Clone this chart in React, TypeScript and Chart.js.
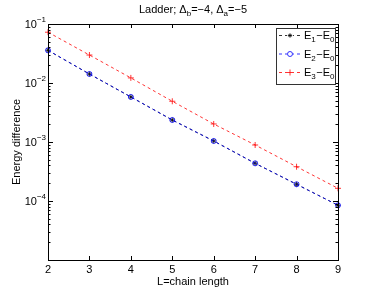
import React, { useEffect, useRef } from "react";
import { Chart, registerables } from "chart.js";
Chart.register(...registerables);

const chainLengths = [2, 3, 4, 5, 6, 7, 8, 9];
const e1MinusE0 = [0.0358, 0.0142, 0.0058, 0.00236, 0.00104, 0.000435, 0.000192, 0.0000845];
const e2MinusE0 = [0.0358, 0.0142, 0.0058, 0.00236, 0.00104, 0.000435, 0.000192, 0.0000845];
const e3MinusE0 = [0.0726, 0.0298, 0.0122, 0.0049, 0.00202, 0.00089, 0.000381, 0.000164];
const xTickValues = [2, 3, 4, 5, 6, 7, 8, 9];
const yLabelExponents = [-1, -2, -3, -4];
const seriesNames = [
  { main: "E", sub1: "1", sub2: "0" },
  { main: "E", sub1: "2", sub2: "0" },
  { main: "E", sub1: "3", sub2: "0" },
];
const seriesColors = ["#000000", "#0000ff", "#ff0000"];
const seriesMarkers = ["star", "circle", "cross"];

const FONT = "'Liberation Sans', Arial, Helvetica, sans-serif";

const decorPlugin = {
  id: "matlabDecor",
  afterDraw(chart: any) {
    const ctx = chart.ctx as CanvasRenderingContext2D;
    const area = chart.chartArea;
    const xs = chart.scales.x;
    const ys = chart.scales.y;
    ctx.save();
    ctx.strokeStyle = "#000";
    ctx.lineWidth = 1;
    ctx.setLineDash([]);
    ctx.strokeRect(area.left + 0.5, area.top + 0.5, area.right - area.left, area.bottom - area.top);
    ctx.beginPath();
    xTickValues.forEach((v) => {
      const px = Math.round(xs.getPixelForValue(v)) + 0.5;
      ctx.moveTo(px, area.bottom);
      ctx.lineTo(px, area.bottom - 4);
      ctx.moveTo(px, area.top);
      ctx.lineTo(px, area.top + 4);
    });
    for (let e = -5; e <= -1; e++) {
      const py = Math.round(ys.getPixelForValue(Math.pow(10, e))) + 0.5;
      ctx.moveTo(area.left, py);
      ctx.lineTo(area.left + 5, py);
      ctx.moveTo(area.right, py);
      ctx.lineTo(area.right - 5, py);
      if (e < -1) {
        for (let m = 2; m <= 9; m++) {
          const pm = Math.round(ys.getPixelForValue(m * Math.pow(10, e))) + 0.5;
          ctx.moveTo(area.left, pm);
          ctx.lineTo(area.left + 2.5, pm);
          ctx.moveTo(area.right, pm);
          ctx.lineTo(area.right - 2.5, pm);
        }
      }
    }
    ctx.stroke();

    ctx.fillStyle = "#000";
    ctx.font = `11px ${FONT}`;
    ctx.textAlign = "center";
    ctx.textBaseline = "top";
    xTickValues.forEach((v) => {
      ctx.fillText(String(v), xs.getPixelForValue(v), area.bottom + 4);
    });
    yLabelExponents.forEach((e) => {
      const py = ys.getPixelForValue(Math.pow(10, e));
      ctx.font = `8px ${FONT}`;
      const expText = "\u2212" + String(-e);
      const ew = ctx.measureText(expText).width;
      ctx.textAlign = "left";
      ctx.textBaseline = "alphabetic";
      const right = area.left - 2;
      ctx.fillText(expText, right - ew, py - 2);
      ctx.font = `11px ${FONT}`;
      ctx.textAlign = "right";
      ctx.fillText("10", right - ew, py + 4);
    });
    ctx.font = `11px ${FONT}`;
    ctx.textAlign = "center";
    ctx.textBaseline = "alphabetic";
    ctx.fillText("L=chain length", (area.left + area.right) / 2, area.bottom + 25);
    ctx.save();
    ctx.translate(20, (area.top + area.bottom) / 2);
    ctx.rotate(-Math.PI / 2);
    ctx.fillText("Energy difference", 0, 0);
    ctx.restore();

    const parts: Array<[string, boolean]> = [
      ["Ladder; \u0394", false],
      ["b", true],
      ["=\u22124, \u0394", false],
      ["a", true],
      ["=\u22125", false],
    ];
    let total = 0;
    parts.forEach(([t, sub]) => {
      ctx.font = sub ? `8px ${FONT}` : `11px ${FONT}`;
      total += ctx.measureText(t).width;
    });
    let tx = (area.left + area.right) / 2 - total / 2;
    ctx.textAlign = "left";
    parts.forEach(([t, sub]) => {
      ctx.font = sub ? `8px ${FONT}` : `11px ${FONT}`;
      ctx.fillText(t, tx, sub ? 16 : 13);
      tx += ctx.measureText(t).width;
    });

    const lx = 276, ly = 28, lw = 59, lh = 56;
    ctx.fillStyle = "#fff";
    ctx.fillRect(lx, ly, lw, lh);
    ctx.strokeStyle = "#333";
    ctx.lineWidth = 1;
    ctx.strokeRect(lx + 0.5, ly + 0.5, lw, lh);
    const rows = [35, 53.5, 72];
    seriesNames.forEach((s, i) => {
      const ry = rows[i];
      const col = seriesColors[i];
      ctx.strokeStyle = col;
      ctx.lineWidth = 0.8;
      ctx.setLineDash([3, 3]);
      ctx.beginPath();
      ctx.moveTo(279, ry + 0.5);
      ctx.lineTo(301, ry + 0.5);
      ctx.stroke();
      ctx.setLineDash([]);
      const mx = 290, my = ry + 0.5;
      ctx.fillStyle = "#fff";
      ctx.fillRect(mx - 3, my - 3, 6, 6);
      ctx.beginPath();
      if (i === 0) {
        for (let k = 0; k < 4; k++) {
          const a = (k * Math.PI) / 4;
          ctx.moveTo(mx - 2.2 * Math.cos(a), my - 2.2 * Math.sin(a));
          ctx.lineTo(mx + 2.2 * Math.cos(a), my + 2.2 * Math.sin(a));
        }
      } else if (i === 1) {
        ctx.arc(mx, my, 2.5, 0, Math.PI * 2);
      } else {
        ctx.moveTo(mx - 3, my);
        ctx.lineTo(mx + 3, my);
        ctx.moveTo(mx, my - 3);
        ctx.lineTo(mx, my + 3);
      }
      ctx.stroke();
      ctx.fillStyle = "#000";
      let x = 304;
      const base = ry + 4;
      ctx.font = `11px ${FONT}`;
      ctx.fillText(s.main, x, base);
      x += ctx.measureText(s.main).width;
      ctx.font = `8px ${FONT}`;
      ctx.fillText(s.sub1, x, base + 3);
      x += ctx.measureText(s.sub1).width + 0.5;
      ctx.font = `11px ${FONT}`;
      ctx.fillText("\u2212", x, base);
      x += ctx.measureText("\u2212").width;
      ctx.fillText(s.main, x, base);
      x += ctx.measureText(s.main).width;
      ctx.font = `8px ${FONT}`;
      ctx.fillText(s.sub2, x, base + 3);
    });
    ctx.restore();
  },
};

export default function App() {
  const ref = useRef<HTMLCanvasElement | null>(null);
  useEffect(() => {
    document.body.style.margin = "0";
    const canvas = ref.current!;
    const mk = (vals: number[], i: number, order: number) => ({
      label: `E${i + 1}-E0`,
      data: chainLengths.map((x, k) => ({ x, y: vals[k] })),
      borderColor: seriesColors[i],
      backgroundColor: "rgba(0,0,0,0)",
      borderWidth: 0.8,
      borderDash: [3, 3],
      pointStyle: seriesMarkers[i] as any,
      pointRadius: i === 2 ? 3 : 2.5,
      pointBorderColor: seriesColors[i],
      pointBackgroundColor: "rgba(0,0,0,0)",
      pointBorderWidth: 0.8,
      fill: false,
      tension: 0,
      clip: false as any,
      order,
    });
    const chart = new Chart(canvas, {
      type: "line",
      data: {
        datasets: [mk(e1MinusE0, 0, 2), mk(e2MinusE0, 1, 1), mk(e3MinusE0, 2, 0)],
      },
      options: {
        responsive: false,
        animation: false,
        layout: { padding: { left: 48, right: 36, top: 24, bottom: 33 } },
        plugins: { legend: { display: false }, title: { display: false }, tooltip: { enabled: false } },
        scales: {
          x: { type: "linear", min: 2, max: 9, display: false },
          y: { type: "logarithmic", min: 1e-5, max: 1e-1, display: false },
        },
      },
      plugins: [decorPlugin],
    });
    return () => chart.destroy();
  }, []);
  return (
    <div style={{ position: "absolute", left: 0, top: 0, width: 374, height: 293, background: "#fff" }}>
      <canvas ref={ref} width={374} height={293} style={{ width: 374, height: 293 }} />
    </div>
  );
}
